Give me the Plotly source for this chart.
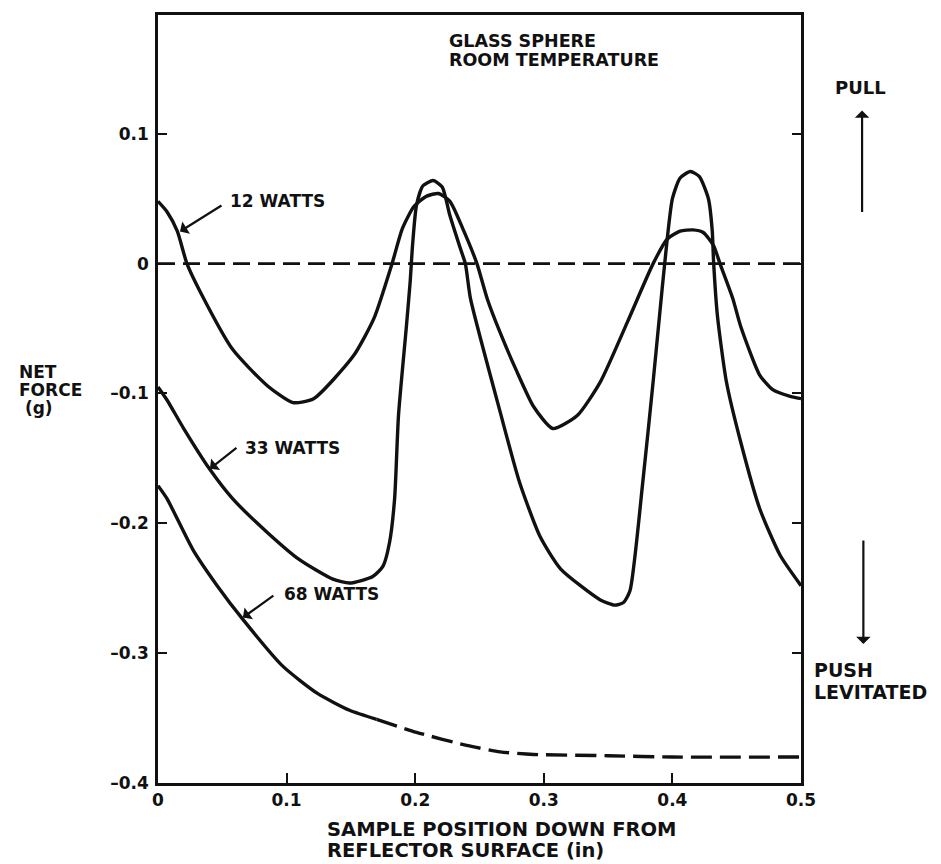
import plotly.graph_objects as go

# ---------------- data ----------------
x_12w = [0, 0.007, 0.015, 0.0225, 0.033, 0.058, 0.085, 0.105, 0.121, 0.152, 0.168, 0.182,
         0.190, 0.199, 0.209, 0.218, 0.227, 0.237, 0.248, 0.256, 0.266, 0.279, 0.292, 0.307,
         0.326, 0.344, 0.365, 0.385, 0.396, 0.406, 0.416, 0.424, 0.432, 0.437, 0.447, 0.453,
         0.468, 0.478, 0.491, 0.5]
y_12w = [0.048, 0.040, 0.025, 0.0, -0.022, -0.066, -0.094, -0.107, -0.104, -0.071, -0.042, 0.0,
         0.027, 0.044, 0.052, 0.054, 0.048, 0.027, 0.0, -0.027, -0.053, -0.083, -0.110, -0.127,
         -0.117, -0.091, -0.045, 0.0, 0.019, 0.025, 0.026, 0.024, 0.014, 0.0, -0.027, -0.048,
         -0.086, -0.097, -0.102, -0.104]

x_33w = [0, 0.007, 0.020, 0.040, 0.058, 0.085, 0.110, 0.136, 0.149, 0.167, 0.175, 0.180,
         0.184, 0.187, 0.193, 0.196, 0.198, 0.201, 0.206, 0.214, 0.221, 0.227, 0.235, 0.239,
         0.243, 0.266, 0.281, 0.297, 0.313, 0.344, 0.355, 0.362, 0.367, 0.377, 0.385, 0.390,
         0.394, 0.400, 0.406, 0.414, 0.421, 0.428, 0.431, 0.432, 0.435, 0.442, 0.453, 0.468,
         0.484, 0.5]
y_33w = [-0.095, -0.105, -0.127, -0.158, -0.181, -0.207, -0.228, -0.243, -0.246, -0.241, -0.233, -0.215,
         -0.181, -0.117, -0.050, -0.015, 0.015, 0.045, 0.060, 0.064, 0.059, 0.037, 0.012, 0.0,
         -0.027, -0.114, -0.168, -0.210, -0.235, -0.259, -0.263, -0.261, -0.252, -0.168, -0.091, -0.040,
         0.0, 0.050, 0.066, 0.071, 0.067, 0.050, 0.025, 0.002, -0.040, -0.091, -0.137, -0.189,
         -0.225, -0.248]

x_68w_solid = [0, 0.007, 0.027, 0.046, 0.066, 0.097, 0.124, 0.149, 0.170]
y_68w_solid = [-0.171, -0.181, -0.220, -0.248, -0.274, -0.310, -0.331, -0.344, -0.351]
x_68w_dash = [0.170, 0.201, 0.240, 0.266, 0.292, 0.350, 0.400, 0.5]
y_68w_dash = [-0.351, -0.361, -0.371, -0.376, -0.378, -0.379, -0.380, -0.380]

x_zero = [0, 0.5]
y_zero = [0, 0]

x_ticks = [0, 0.1, 0.2, 0.3, 0.4, 0.5]
x_ticktext = ["0", "0.1", "0.2", "0.3", "0.4", "0.5"]
y_ticks = [0.1, 0, -0.1, -0.2, -0.3, -0.4]
y_ticktext = ["0.1", "0", "\u20130.1", "\u20130.2", "\u20130.3", "\u20130.4"]

curve_labels = ["12 WATTS", "33 WATTS", "68 WATTS"]
label_pos = [(0.0544, 0.0479), (0.0661, -0.1421), (0.0964, -0.2548)]
arrow_tips = [(0.0171, 0.0247), (0.0404, -0.158), (0.066, -0.2726)]
arrow_tails = [(43, -27), (28, -22), (32, -23)]

title_lines = ["GLASS SPHERE", "ROOM TEMPERATURE"]
xtitle_lines = ["SAMPLE POSITION DOWN FROM", "REFLECTOR SURFACE (in)"]
ytitle_lines = ["NET", "FORCE", "\u00a0(g)"]
push_lines = ["PUSH", "LEVITATED"]

FONT = "DejaVu Sans"
BLACK = "#111111"

fig = go.Figure()
line_style = dict(color=BLACK, width=3.4, shape="spline", smoothing=0.6)
fig.add_trace(go.Scatter(x=x_zero, y=y_zero, mode="lines",
                         line=dict(color=BLACK, width=2.6, dash="17px,8px"), hoverinfo="skip"))
fig.add_trace(go.Scatter(x=x_12w, y=y_12w, mode="lines", line=line_style))
fig.add_trace(go.Scatter(x=x_33w, y=y_33w, mode="lines", line=line_style))
fig.add_trace(go.Scatter(x=x_68w_solid, y=y_68w_solid, mode="lines", line=line_style))
fig.add_trace(go.Scatter(x=x_68w_dash, y=y_68w_dash, mode="lines",
                         line=dict(color=BLACK, width=3.4, shape="spline", smoothing=0.6,
                                   dash="21px,8px")))

ann = []
bold = dict(family=FONT, color=BLACK, weight="bold")
for txt, (lx, ly), (tx, ty), (ax, ay) in zip(curve_labels, label_pos, arrow_tips, arrow_tails):
    ann.append(dict(x=lx, y=ly, xref="x", yref="y", text=txt, showarrow=False,
                    xanchor="left", yanchor="middle", font=dict(size=17, **bold)))
    ann.append(dict(x=tx, y=ty, xref="x", yref="y", text="", showarrow=True,
                    ax=ax, ay=ay, arrowhead=1, arrowsize=1.1, arrowwidth=2.2,
                    arrowcolor=BLACK))


def block(lines, x, y, size, base, xref="paper", yref="y"):
    # base font size sets the line spacing (1.3 * base); each line drawn at `size`
    txt = "<br>".join('<span style="font-size:%.1fpx">%s</span>' % (size, s) for s in lines)
    return dict(x=x, y=y, xref=xref, yref=yref, text=txt, showarrow=False,
                xanchor="left", yanchor="middle", align="left",
                font=dict(size=base, **bold))


ann.append(block(title_lines, 0.4494, 0.1642, 17.5, 14.5))
ann.append(block(xtitle_lines, 0.2597, -0.0736, 19.5, 16, yref="paper"))
ann.append(block(ytitle_lines, -0.2193, -0.0973, 17, 14))
ann.append(block(push_lines, 1.017, -0.3216, 19, 17))

# right side: PULL and arrows
ann.append(dict(x=1.050, y=0.136, xref="paper", yref="y", text="PULL", showarrow=False,
                xanchor="left", yanchor="middle", font=dict(size=18, **bold)))
ann.append(dict(x=1.095, y=0.118, xref="paper", yref="y", text="", showarrow=True,
                ax=0, ay=103, arrowhead=1, arrowsize=1.1, arrowwidth=2.2, arrowcolor=BLACK))
ann.append(dict(x=1.097, y=-0.293, xref="paper", yref="y", text="", showarrow=True,
                ax=0, ay=-105, arrowhead=1, arrowsize=1.1, arrowwidth=2.2, arrowcolor=BLACK))

fig.update_layout(
    width=941, height=864,
    margin=dict(l=158, r=140, t=13, b=81),
    paper_bgcolor="white", plot_bgcolor="white",
    showlegend=False,
    annotations=ann,
    xaxis=dict(range=[0, 0.5], tickvals=x_ticks, ticktext=x_ticktext,
               ticks="inside", ticklen=10, tickwidth=2, tickcolor=BLACK,
               showline=True, linecolor=BLACK, linewidth=2.6, mirror=True,
               showgrid=False, zeroline=False,
               tickfont=dict(family=FONT, size=17, color=BLACK, weight="bold")),
    yaxis=dict(range=[-0.4, 0.1915], tickvals=y_ticks, ticktext=y_ticktext,
               ticks="inside", ticklen=9, tickwidth=2, tickcolor=BLACK,
               showline=True, linecolor=BLACK, linewidth=2.6, mirror="ticks",
               showgrid=False, zeroline=False, ticklabelstandoff=3,
               tickfont=dict(family=FONT, size=17, color=BLACK, weight="bold")),
)

fig.write_html("out.html")
